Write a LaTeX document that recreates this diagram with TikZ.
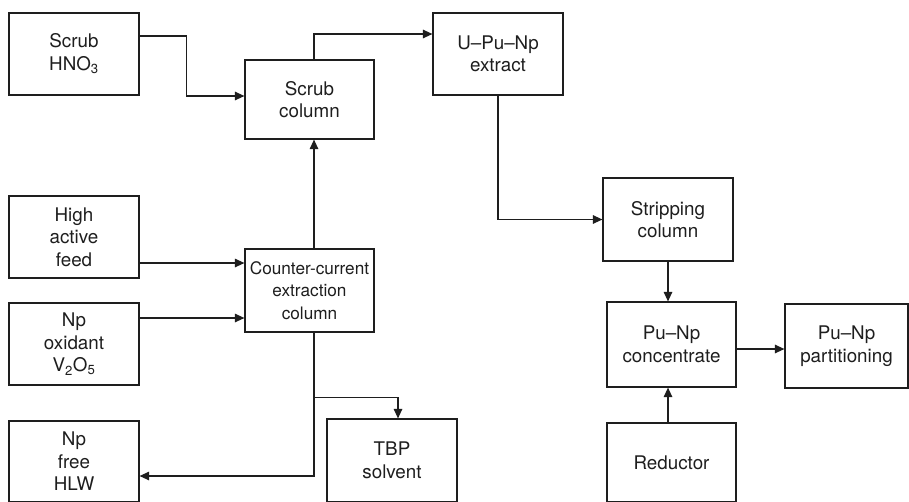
\documentclass[tikz,border=0pt]{standalone}
\usepackage{fontspec}
\setmainfont{TeX Gyre Heros}
\usetikzlibrary{arrows.meta}
\definecolor{ink}{HTML}{1E1E1E}
\begin{document}
\begin{tikzpicture}[x=1pt,y=-1pt,
  box/.style={draw=ink, line width=1.2pt, align=center, inner sep=0pt, text=ink,
              font=\fontsize{18.8}{22.5}\selectfont},
  arr/.style={draw=ink, line width=1.2pt, -{Triangle[length=9.5pt,width=8.5pt]}}]
\clip (0,0) rectangle (909,501);
\fill[white] (0,0) rectangle (909,501);

% feed and scrub streams
\node[box, minimum width=130pt, minimum height=82pt] (scrubacid) at (74,54) {Scrub\\HNO\textsubscript{3}};
\node[box, minimum width=129pt, minimum height=79pt] (scrubcol) at (309.5,99.5) {Scrub\\column};
\node[box, minimum width=130pt, minimum height=82pt] (extract) at (498,54) {U--Pu--Np\\extract};
\node[box, minimum width=130pt, minimum height=83pt] (strip) at (668,219.5) {Stripping\\column};
\node[box, minimum width=130pt, minimum height=82pt] (feed) at (74,237) {High\\active\\feed};
\node[box, minimum width=130pt, minimum height=82pt] (oxid) at (74,344) {Np\\oxidant\\V\textsubscript{2}O\textsubscript{5}};
\node[box, minimum width=129pt, minimum height=83pt, font=\fontsize{17.2}{22.5}\selectfont] (ccol) at (309.5,290.5) {Counter-current\\extraction\\column};
\node[box, minimum width=129pt, minimum height=85pt] (conc) at (671.5,344.5) {Pu--Np\\concentrate};
\node[box, minimum width=123pt, minimum height=84pt] (part) at (846.5,346) {Pu--Np\\partitioning};

% boxes running off the lower edge
\node[box, minimum width=130pt, minimum height=81pt] (hlw) at (74,461.5) {Np\\free\\HLW};
\node[box, minimum width=130pt, minimum height=83pt] (tbp) at (392,460.5) {TBP\\solvent};
\node[box, minimum width=129pt, minimum height=79pt] (reduct) at (671.5,462.5) {Reductor};

% connectors
\draw[arr] ([yshift=18pt]scrubacid.east) -- ++(47,0) |- ([yshift=3.5pt]scrubcol.west);
\draw[arr] ([xshift=4.5pt]scrubcol.north) |- ([yshift=20pt]extract.west);
\draw[arr] ([xshift=4.5pt]ccol.north) -- ([xshift=4.5pt]scrubcol.south);
\draw[arr] ([yshift=-26pt]feed.east) coordinate (f) -- (f -| ccol.west);
\draw[arr] ([yshift=26pt]oxid.east) coordinate (o) -- (o -| ccol.west);
\draw[arr] ([xshift=4.5pt]ccol.south) |- ([yshift=-14.5pt]hlw.east);
\path ([xshift=4.5pt]ccol.south) ++(0,65) coordinate (j);
\draw[arr] (j) -| ([xshift=6pt]tbp.north);
\draw[arr] (extract.south) |- (strip.west);
\draw[arr] (strip.south) -- (strip.south |- conc.north);
\draw[arr] ([yshift=-4.5pt]conc.east) coordinate (c) -- (c -| part.west);
\draw[arr] ([xshift=-3.5pt]reduct.north) -- ([xshift=-3.5pt]conc.south);
\end{tikzpicture}
\end{document}
